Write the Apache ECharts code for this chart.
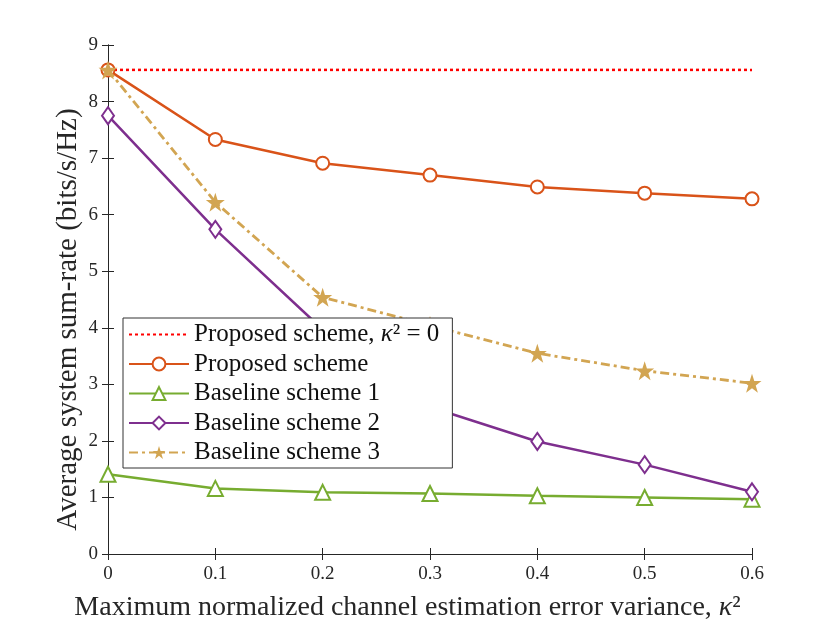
<!DOCTYPE html>
<html>
<head>
<meta charset="utf-8">
<script src="https://cdn.jsdelivr.net/npm/echarts@6/dist/echarts.min.js"></script>
<style>
  html, body { margin: 0; padding: 0; background: #fff; }
  #main { width: 830px; height: 623px; }
</style>
</head>
<body>
<div id="main"></div>
<script>
// x values (kappa^2)
const kappa = [0, 0.1, 0.2, 0.3, 0.4, 0.5, 0.6]
// sum-rate
const perfectCsi = 8.56
const proposed = [8.56, 7.33, 6.91, 6.70, 6.49, 6.38, 6.28]
const baseline1 = [1.41, 1.16, 1.09, 1.07, 1.03, 1.00, 0.97]
const baseline2 = [7.75, 5.74, 3.97, 2.60, 1.99, 1.58, 1.10]
const baseline3 = [8.56, 6.22, 4.54, 4.04, 3.55, 3.24, 3.02]
const yTicks = [0, 1, 2, 3, 4, 5, 6, 7, 8, 9]

const FONT = 'Liberation Serif'
const star = 'path://M50,0 L61.8,35.1 L98.9,35.1 L69.1,56.9 L80.3,92.1 L50,70.3 L19.7,92.1 L30.9,56.9 L1.1,35.1 L38.2,35.1 Z'

const pairs = arr => kappa.map((k, i) => [k, arr[i]])

const chart = echarts.init(document.getElementById('main'))

const axisLine = { show: true, lineStyle: { color: '#262626', width: 1 } }
const axisTick = { show: true, inside: true, length: 6, lineStyle: { color: '#262626' } }

const option = {
  animation: false,
  backgroundColor: '#fff',
  grid: { left: 108, right: 78, top: 45, bottom: 69, outerBoundsMode: 'none' },
  xAxis: [{
    type: 'value', min: 0, max: 0.6, interval: 0.1,
    axisLine, axisTick, splitLine: { show: false },
    axisLabel: { color: '#262626', fontFamily: FONT, fontSize: 19, margin: 11,
      formatter: v => v === 0 ? '0' : v.toFixed(1) },
    name: '{t|Maximum normalized channel estimation error variance, }{i|κ}{t|²}',
    nameLocation: 'middle', nameGap: 40,
    nameTextStyle: { padding: [0, 45, 0, 0], rich: {
      t: { fontFamily: FONT, fontSize: 28, color: '#262626' },
      i: { fontFamily: FONT, fontSize: 28, fontStyle: 'italic', color: '#262626' }
    } }
  }, {
    type: 'value', position: 'top', min: 0, max: 0.6, interval: 0.1,
    axisLine, axisTick, axisLabel: { show: false }, splitLine: { show: false }
  }],
  yAxis: [{
    type: 'value', min: yTicks[0], max: yTicks[yTicks.length - 1], interval: 1,
    axisLine, axisTick, splitLine: { show: false },
    axisLabel: { color: '#262626', fontFamily: FONT, fontSize: 19, margin: 10 },
    name: 'Average system sum-rate (bits/s/Hz)',
    nameLocation: 'middle', nameGap: 25, nameRotate: 90, nameMoveOverlap: false,
    nameTextStyle: { fontFamily: FONT, fontSize: 29, color: '#262626', padding: [0, 40, 0, 0] }
  }, {
    type: 'value', position: 'right', min: 0, max: 9, interval: 1,
    axisLine, axisTick, axisLabel: { show: false }, splitLine: { show: false }
  }],
  legend: {
    orient: 'vertical', left: 123, top: 318, z: 10,
    backgroundColor: '#fff', borderColor: '#333', borderWidth: 1,
    padding: [4, 13, 3, 5],
    itemWidth: 60, itemHeight: 16, itemGap: 4.5,
    textStyle: { fontFamily: FONT, fontSize: 25, lineHeight: 24, color: '#111',
      rich: {
        t: { fontFamily: FONT, fontSize: 25, lineHeight: 24, color: '#111' },
        i: { fontFamily: FONT, fontSize: 25, lineHeight: 24, fontStyle: 'italic', color: '#111' }
      } },
    formatter: name => name === 'perfect'
      ? '{t|Proposed scheme, }{i|κ}{t|² = 0}'
      : name,
    data: [
      { name: 'perfect', itemStyle: { opacity: 0 } },
      'Proposed scheme', 'Baseline scheme 1', 'Baseline scheme 2', 'Baseline scheme 3'
    ]
  },
  series: [{
    name: 'perfect', type: 'line', z: 2,
    symbol: 'circle', showSymbol: false,
    data: [[kappa[0], perfectCsi], [kappa[kappa.length - 1], perfectCsi]],
    lineStyle: { color: '#ff0000', width: 2.5, type: [3, 3] },
    itemStyle: { color: '#ff0000' }
  }, {
    name: 'Proposed scheme', type: 'line', data: pairs(proposed), z: 3,
    symbol: 'emptyCircle', symbolSize: 13,
    lineStyle: { color: '#d95319', width: 2.5 },
    itemStyle: { color: '#d95319', borderWidth: 2.2 }
  }, {
    name: 'Baseline scheme 1', type: 'line', data: pairs(baseline1), z: 3,
    symbol: 'emptyTriangle', symbolSize: 15,
    lineStyle: { color: '#77ac30', width: 2.5 },
    itemStyle: { color: '#77ac30', borderWidth: 2.2 }
  }, {
    name: 'Baseline scheme 2', type: 'line', data: pairs(baseline2), z: 3,
    symbol: 'emptyDiamond', symbolSize: [12, 17],
    lineStyle: { color: '#7e2f8e', width: 2.5 },
    itemStyle: { color: '#7e2f8e', borderWidth: 2.2 }
  }, {
    name: 'Baseline scheme 3', type: 'line', data: pairs(baseline3), z: 4,
    symbol: star, symbolSize: 19,
    lineStyle: { color: '#d2a552', width: 2.8, type: [9, 4, 3, 4] },
    itemStyle: { color: '#d2a552' }
  }]
}

chart.setOption(option)
</script>
</body>
</html>
